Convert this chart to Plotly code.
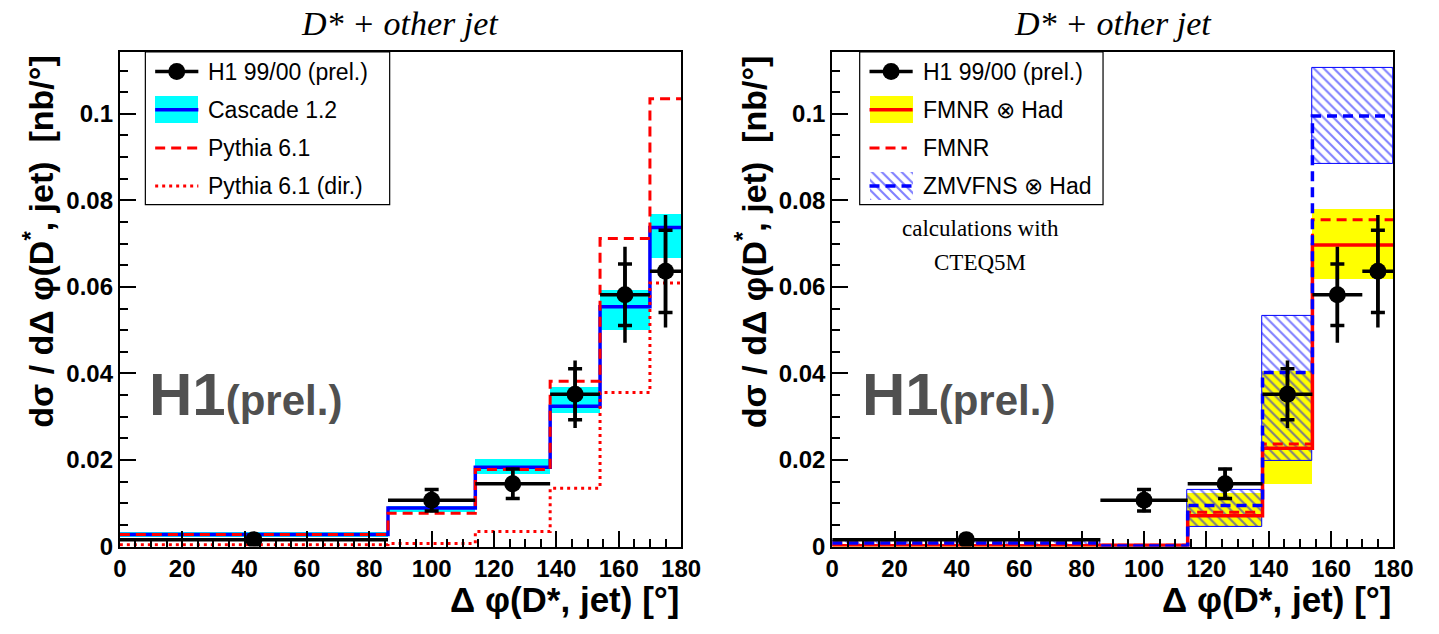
import numpy as np
import plotly.graph_objects as go

# ---------------- data ----------------
edges_left = [0, 86, 114, 138, 154, 170, 180]
edges_right = [0, 86, 114, 138, 154, 180]

h1_x = [43, 100, 126, 146, 162, 175]
h1_y = [0.0016, 0.0107, 0.0145, 0.0352, 0.0582, 0.0636]
h1_stat = [0.0003, 0.0025, 0.0034, 0.0059, 0.0071, 0.0095]
h1_tot = [0.0004, 0.0028, 0.0037, 0.0078, 0.0111, 0.0130]

cascade = [0.0028, 0.0089, 0.0183, 0.0324, 0.0554, 0.0737]
cascade_lo = [0.0023, 0.0081, 0.0168, 0.0309, 0.0501, 0.0666]
cascade_hi = [0.0033, 0.0094, 0.0202, 0.0369, 0.0592, 0.0769]
pythia = [0.0028, 0.0077, 0.0178, 0.0382, 0.0712, 0.1035]
pythia_dir = [0.0004, 0.0007, 0.0035, 0.0135, 0.0356, 0.0609]

fmnr_had = [0.0002, 0.0003, 0.0071, 0.0227, 0.0697]
fmnr_had_lo = [0.0001, 0.0001, 0.0048, 0.0145, 0.0618]
fmnr_had_hi = [0.0004, 0.0005, 0.0125, 0.0405, 0.0780]
fmnr = [0.0008, 0.0003, 0.0079, 0.0237, 0.0755]
zmvfns = [0.0008, 0.0001, 0.0095, 0.0402, 0.0995]
zmvfns_lo = [0.0002, 0.0000, 0.0045, 0.0197, 0.0885]
zmvfns_hi = [0.0013, 0.0002, 0.0131, 0.0534, 0.1105]

x_ticks = [0, 20, 40, 60, 80, 100, 120, 140, 160, 180]
x_ticklabels = ["0", "20", "40", "60", "80", "100", "120", "140", "160", "180"]
y_ticks = [0, 0.02, 0.04, 0.06, 0.08, 0.1]
y_ticklabels = ["0", "0.02", "0.04", "0.06", "0.08", "0.1"]

legend_left = ["H1 99/00 (prel.)", "Cascade 1.2", "Pythia 6.1", "Pythia 6.1 (dir.)"]
legend_right = ["H1 99/00 (prel.)", "FMNR \u2297 Had", "FMNR", "ZMVFNS \u2297 Had"]

# ---------------- helpers ----------------
W, H = 1439, 634
SANS = "Liberation Sans"
SERIF = "Liberation Serif"

def step_xy(edges, vals):
    return list(edges), list(vals) + [vals[-1]]

def centers_widths(edges):
    e = np.asarray(edges, dtype=float)
    return (e[:-1] + e[1:]) / 2, np.diff(e)

HATCH = dict(shape="\\", fgcolor="blue", bgcolor="rgba(0,0,0,0)",
             size=7, solidity=0.3, fillmode="overlay")

fig = go.Figure()

def add_band(xa, ya, edges, lo, hi, color, hatch=False):
    c, w = centers_widths(edges)
    lo = np.asarray(lo); hi = np.asarray(hi)
    if hatch:
        marker = dict(color="rgba(0,0,0,0)", line=dict(color="blue", width=1), pattern=HATCH)
    else:
        marker = dict(color=color, line=dict(width=0))
    fig.add_trace(go.Bar(x=c, y=hi - lo, base=lo, width=w, marker=marker,
                         xaxis=xa, yaxis=ya, showlegend=False, hoverinfo="skip"))

def add_step(xa, ya, edges, vals, color, dash="solid", width=3):
    sx, sy = step_xy(edges, vals)
    fig.add_trace(go.Scatter(x=sx, y=sy, mode="lines", line_shape="hv",
                             line=dict(color=color, width=width, dash=dash),
                             xaxis=xa, yaxis=ya, showlegend=False, hoverinfo="skip"))

def add_data(xa, ya):
    c, w = centers_widths(edges_left)
    fig.add_trace(go.Scatter(x=h1_x, y=h1_y, mode="markers",
                             marker=dict(color="black", size=17),
                             error_y=dict(type="data", array=h1_tot, color="black", thickness=3.5, width=0),
                             error_x=dict(type="data", array=list(w / 2), color="black", thickness=3.5, width=0),
                             xaxis=xa, yaxis=ya, showlegend=False, hoverinfo="skip"))
    fig.add_trace(go.Scatter(x=h1_x, y=h1_y, mode="markers",
                             marker=dict(color="black", size=1, opacity=0),
                             error_y=dict(type="data", array=h1_stat, color="black", thickness=3.5, width=7),
                             xaxis=xa, yaxis=ya, showlegend=False, hoverinfo="skip"))

# ---------------- left panel ----------------
add_band("x", "y", edges_left, cascade_lo, cascade_hi, "#00ffff")
add_step("x", "y", edges_left, cascade, "blue", "solid", 3.5)
add_step("x", "y", edges_left, pythia_dir, "red", "3px,4px", 3)
add_step("x", "y", edges_left, pythia, "red", "10px,6px", 3)
add_data("x", "y")

# ---------------- right panel ----------------
add_band("x2", "y2", edges_right, fmnr_had_lo, fmnr_had_hi, "#ffff00")
add_band("x2", "y2", edges_right, zmvfns_lo, zmvfns_hi, "blue", hatch=True)
add_step("x2", "y2", edges_right, fmnr_had, "red", "solid", 3.5)
add_step("x2", "y2", edges_right, fmnr, "red", "10px,6px", 3)
add_step("x2", "y2", edges_right, zmvfns, "blue", "10px,6px", 3.5)
add_data("x2", "y2")

# ---------------- legend samples on a pixel overlay axis ----------------
def px_line(x0, x1, y, color, dash="solid", width=3):
    fig.add_trace(go.Scatter(x=[x0, x1], y=[y, y], mode="lines",
                             line=dict(color=color, width=width, dash=dash),
                             xaxis="x3", yaxis="y3", showlegend=False, hoverinfo="skip"))

def px_box(x0, x1, yc, h, color, hatch=False):
    if hatch:
        marker = dict(color="rgba(0,0,0,0)", line=dict(width=0), pattern=HATCH)
    else:
        marker = dict(color=color, line=dict(width=0))
    fig.add_trace(go.Bar(x=[(x0 + x1) / 2], y=[h], base=[yc - h / 2], width=[x1 - x0],
                         marker=marker, xaxis="x3", yaxis="y3", showlegend=False, hoverinfo="skip"))

rows = [73, 112, 151, 190]
for (bx0, bx1, labels, kind) in [(141, 390, legend_left, "L"), (869, 1117, legend_right, "R")]:
    s0, s1 = bx0 + 10, bx0 + 54
    px_line(s0, s1, rows[0], "black", "solid", 3.5)
    fig.add_trace(go.Scatter(x=[(s0 + s1) / 2], y=[rows[0]], mode="markers",
                             marker=dict(color="black", size=17),
                             xaxis="x3", yaxis="y3", showlegend=False, hoverinfo="skip"))
    if kind == "L":
        px_box(s0, s1, rows[1], 28, "#00ffff")
        px_line(s0, s1, rows[1], "blue", "solid", 3.5)
        px_line(s0, s1, rows[2], "red", "10px,6px", 3)
        px_line(s0, s1, rows[3], "red", "3px,4px", 3)
    else:
        px_box(s0, s1, rows[1], 28, "#ffff00")
        px_line(s0, s1, rows[1], "red", "solid", 3.5)
        px_line(s0, s1 - 6, rows[2], "red", "10px,6px", 3)
        px_box(s0, s1, rows[3], 28, "blue", hatch=True)
        px_line(s0, s1, rows[3], "blue", "10px,6px", 3.5)
    fig.add_shape(type="rect", xref="x3", yref="y3", x0=bx0, x1=bx1, y0=53, y1=209,
                  line=dict(color="black", width=1.2), fillcolor="rgba(0,0,0,0)")
    for r, lab in zip(rows, labels):
        fig.add_annotation(x=bx0 + 62, y=r, xref="x3", yref="y3", text=lab, showarrow=False,
                           xanchor="left", yanchor="middle",
                           font=dict(family=SANS, size=23, color="black"))

# ---------------- axes ----------------
xdom_l = [115 / W, 687 / W]
xdom_r = [841 / W, 1413 / W]
ydom = [(H - 558) / H, (H - 53) / H]

tickfont = dict(family=SANS, size=24, color="black", weight="bold")
common_x = dict(range=[0, 180], tickvals=x_ticks, ticktext=x_ticklabels, ticks="inside",
                ticklen=16, tickwidth=1.5, tickcolor="black", showline=True, linecolor="black",
                linewidth=2, mirror=True, showgrid=False, zeroline=False, tickfont=tickfont,
                minor=dict(dtick=5, ticklen=8, ticks="inside", tickcolor="black", tickwidth=1.5))
common_y = dict(range=[0, 0.1143], tickvals=y_ticks, ticktext=y_ticklabels, ticks="inside",
                ticklen=16, tickwidth=1.5, tickcolor="black", showline=True, linecolor="black",
                linewidth=2, mirror=True, showgrid=False, zeroline=False, tickfont=tickfont,
                minor=dict(dtick=0.005, ticklen=8, ticks="inside", tickcolor="black", tickwidth=1.5))

fig.update_layout(
    width=W, height=H, margin=dict(l=0, r=0, t=0, b=0),
    paper_bgcolor="white", plot_bgcolor="rgba(0,0,0,0)",
    barmode="overlay", bargap=0, showlegend=False,
    xaxis=dict(domain=xdom_l, anchor="y", **common_x),
    yaxis=dict(domain=ydom, anchor="x", **common_y),
    xaxis2=dict(domain=xdom_r, anchor="y2", **common_x),
    yaxis2=dict(domain=ydom, anchor="x2", **common_y),
    xaxis3=dict(domain=[0, 1], range=[0, W], visible=False, anchor="y3", fixedrange=True),
    yaxis3=dict(domain=[0, 1], range=[H, 0], visible=False, anchor="x3", fixedrange=True),
)

# ---------------- texts ----------------
for xa0, xa1 in [(115, 687), (841, 1413)]:
    fig.add_annotation(x=(xa0 + xa1) / 2, y=24, xref="x3", yref="y3",
                       text="<i>D* + other jet</i>", showarrow=False,
                       xanchor="center", yanchor="middle",
                       font=dict(family=SERIF, size=34, color="black"))
    fig.add_annotation(x=xa1, y=634, xref="x3", yref="y3",
                       text="<b>\u0394 \u03c6(D*, jet) [\u00b0]</b>", showarrow=False,
                       xanchor="right", yanchor="bottom",
                       font=dict(family=SANS, size=35, color="black"))
    fig.add_annotation(x=xa0 - 83, y=54, xref="x3", yref="y3", textangle=-90,
                       text="<b>d\u03c3 / d\u0394 \u03c6(D<sup>*</sup>, jet)  [nb/\u00b0]</b>",
                       showarrow=False, xanchor="center", yanchor="top",
                       font=dict(family=SANS, size=34, color="black"))
    fig.add_annotation(x=xa0 + 28, y=403, xref="x3", yref="y3",
                       text="<b>H1<span style='font-size:42px'>(prel.)</span></b>",
                       showarrow=False, xanchor="left", yanchor="middle",
                       font=dict(family=SANS, size=60, color="#505050"))

fig.add_annotation(x=992, y=233, xref="x3", yref="y3", text="calculations with", showarrow=False,
                   xanchor="center", yanchor="middle", font=dict(family=SERIF, size=23, color="black"))
fig.add_annotation(x=992, y=268, xref="x3", yref="y3", text="CTEQ5M", showarrow=False,
                   xanchor="center", yanchor="middle", font=dict(family=SERIF, size=23, color="black"))

fig.write_html("out.html")
